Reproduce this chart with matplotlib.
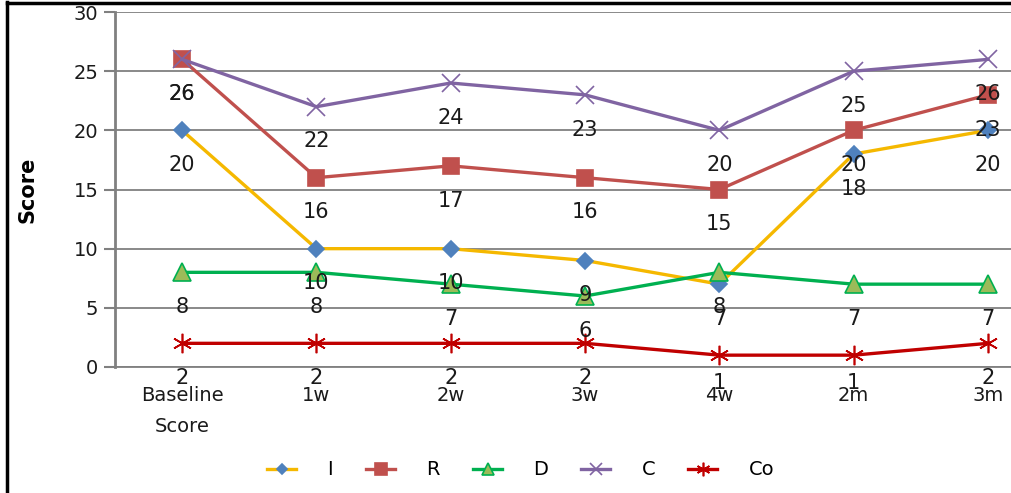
import matplotlib
matplotlib.use("Agg")
import matplotlib.pyplot as plt
from matplotlib.lines import Line2D

# Data
categories = ["Baseline\nScore", "1w", "2w", "3w", "4w", "2m", "3m"]
series_names = ["I", "R", "D", "C", "Co"]
i_vals = [20, 10, 10, 9, 7, 18, 20]
r_vals = [26, 16, 17, 16, 15, 20, 23]
d_vals = [8, 8, 7, 6, 8, 7, 7]
c_vals = [26, 22, 24, 23, 20, 25, 26]
co_vals = [2, 2, 2, 2, 1, 1, 2]

styles = [
    # line colour, marker, marker face, marker edge, marker size
    ("#F5B800", "D", "#4F81BD", "#4F81BD", 8),
    ("#C0504D", "s", "#C0504D", "#C0504D", 12),
    ("#00B050", "^", "#9BBB59", "#00B050", 13),
    ("#8064A2", "x", "#8064A2", "#8064A2", 13),
    ("#C00000", (6, 2, 0), "#C00000", "#C00000", 14),
]

fig = plt.figure(figsize=(10.11, 4.93), dpi=100)
ax = fig.add_axes([0.1137, 0.2556, 0.930, 0.720])

x = list(range(len(categories)))
all_vals = [i_vals, r_vals, d_vals, c_vals, co_vals]
for name, vals, (lc, mk, mf, me, ms) in zip(series_names, all_vals, styles):
    ax.plot(x, vals, color=lc, lw=2.4, marker=mk, markersize=ms,
            markerfacecolor=mf, markeredgecolor=me, markeredgewidth=1.2,
            label=name, zorder=3)
    for xi, v in zip(x, vals):
        # labels near the axis sit a bit higher, as in the reference
        off = -25 if v >= 2 else -20
        ax.annotate(str(v), (xi, v), xytext=(0, off), textcoords="offset points",
                    ha="center", va="center", fontsize=15, color="#1a1a1a",
                    zorder=4, annotation_clip=False)

ax.set_xlim(-0.5, 6.5)
ax.set_ylim(0, 30)
ax.set_yticks(range(0, 31, 5))
ax.set_xticks(x)
ax.set_xticklabels(categories, fontsize=14, color="#1a1a1a", linespacing=1.75)
ax.tick_params(axis="y", labelsize=14, labelcolor="#1a1a1a", length=8,
               width=1.5, color="#808080", pad=4)
ax.tick_params(axis="x", length=0, pad=14)
ax.grid(axis="y", color="#808080", lw=1.3)
ax.set_axisbelow(True)
for side in ["top", "right"]:
    ax.spines[side].set_visible(False)
ax.spines["left"].set_color("#808080")
ax.spines["left"].set_linewidth(2)
ax.spines["bottom"].set_color("#808080")
ax.spines["bottom"].set_linewidth(1.3)

ax.set_ylabel("Score", fontsize=15, fontweight="bold",
              family=["Liberation Sans Narrow", "DejaVu Sans"], labelpad=26)

fig.legend(loc="center", bbox_to_anchor=(0.515, 0.047), ncol=5, frameon=False,
           fontsize=14, handlelength=1.5, handletextpad=1.6, columnspacing=1.7,
           markerscale=0.7)

# frame around the picture (left and top edges visible in the crop)
fig.add_artist(Line2D([0.007, 0.007], [0, 0.995], color="black", lw=2.5,
                      transform=fig.transFigure))
fig.add_artist(Line2D([0.007, 1.0], [0.994, 0.994], color="black", lw=2.5,
                      transform=fig.transFigure))

fig.savefig("out.png", dpi=100)
